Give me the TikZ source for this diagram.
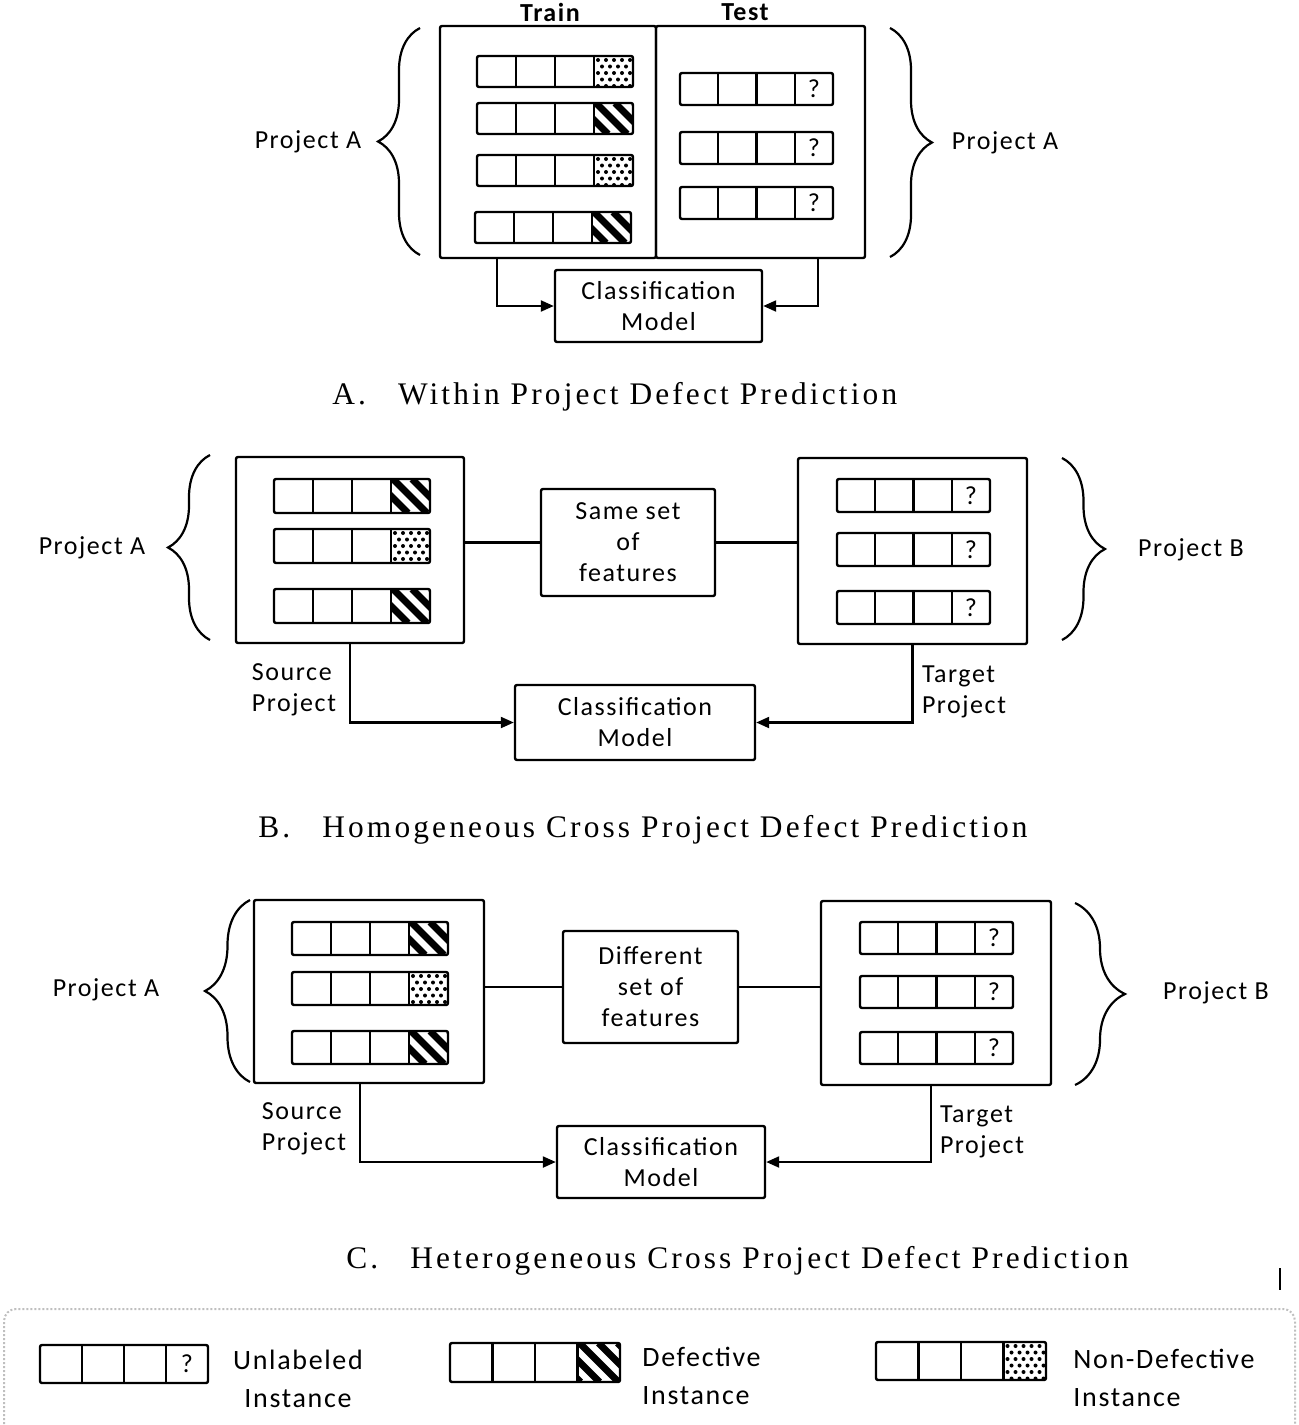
\documentclass[tikz,border=0pt]{standalone}
\usepackage{fontspec}
\setmainfont{Liberation Serif}
\newfontfamily\labelfont{Carlito}[LetterSpace=6]
\newfontfamily\titlefont{Liberation Serif}[LetterSpace=10]
\usetikzlibrary{positioning,decorations.pathreplacing,arrows.meta}

\tikzset{
  x=0.5pt, y=-0.5pt,
  box/.style={draw, line width=1.2pt, rounded corners=1pt, inner sep=0pt},
  lbl/.style={font=\labelfont\fontsize{13}{15.5}\selectfont, align=center, inner sep=0pt},
  lblb/.style={font=\labelfont\bfseries\fontsize{13}{15.5}\selectfont, inner sep=0pt},
  keylbl/.style={font=\labelfont\fontsize{14}{19}\selectfont, inner sep=0pt},
  ttl/.style={font=\titlefont\fontsize{15.7}{18}\selectfont, anchor=base west, inner sep=0pt},
  wire/.style={line width=1.1pt},
  arr/.style={wire, -{Triangle[length=6.5pt,width=5.5pt]}},
  brc/.style={decorate, decoration={brace, amplitude=#1}, line width=1.1pt},
  cellw/.store in=\cellw, cellh/.store in=\cellh, cellw=39, cellh=31,
  % one instance: four feature cells
  row/.pic={
    \draw[line width=1.2pt, rounded corners=1pt] (0,0) rectangle ({4*\cellw},\cellh);
    \foreach \i in {1,2,3}
      \draw[line width=1.1pt] ({\i*\cellw},0) -- ({\i*\cellw},\cellh);
  },
  unlab/.pic={
    \pic {row};
    \node[lbl] at ({3.5*\cellw},{0.5*\cellh}) {?};
  },
  defect/.pic={
    \begin{scope}
      \clip ({3*\cellw},0) rectangle ({4*\cellw},\cellh);
      \foreach \k in {-2,...,2}
        \draw[line width=3.4pt] ({3*\cellw+\k*19+2},0) -- ++(\cellh,\cellh);
    \end{scope}
    \pic {row};
  },
  nondef/.pic={
    \begin{scope}
      \clip ({3*\cellw},0) rectangle ({4*\cellw},\cellh);
      \foreach \i in {0,...,5}
        \foreach \j in {0,...,6}
          \fill ({3*\cellw+4+\i*8+mod(\j,2)*4},{4+\j*6.5}) circle (1pt);
    \end{scope}
    \pic {row};
  },
}

\begin{document}
\begin{tikzpicture}
\useasboundingbox (0,0) rectangle (1299,1425);

% ---------- A. within project
\node[box, minimum width=108pt, minimum height=116pt] (trainA) at (548,142) {};
\node[box, minimum width=104.5pt, minimum height=116pt] (testA) at (760.5,142) {};
\node[lblb] (trainlbl) at (550,12) {Train};
\node[lblb] (testlbl) at (745,12) {Test};

\pic at (477,56) {nondef};
\pic at (477,103) {defect};
\pic at (477,155) {nondef};
\pic at (475,212) {defect};
\foreach \y in {73,132,187}
  \pic[cellw=38.25, cellh=32] at (680,\y) {unlab};

\draw[brc=21pt] (420,255) -- (420,28);
\node[lbl] (projAl) at (308,142) {Project A};
\draw[brc=21pt] (890,28) -- (890,257);
\node[lbl] (projAr) at (1005,143) {Project A};

\node[box, minimum width=103.5pt, minimum height=36pt, lbl] (clsA) at (658.5,306) {Classification\\Model};
\draw[arr] ([xshift=29pt]trainA.south west) |- (clsA.west);
\draw[arr] ([xshift=-24pt]testA.south east) |- (clsA.east);

\node[ttl] (ttlA) at (332,404) {A.\hspace{16pt}Within Project Defect Prediction};

% ---------- B. homogeneous
\node[box, minimum width=114pt, minimum height=93pt] (srcB) at (350,550) {};
\node[box, minimum width=87pt, minimum height=53.5pt, lbl] (featB) at (628,542.5) {Same set\\of\\features};
\node[box, minimum width=114.5pt, minimum height=93pt] (tgtB) at (912.5,551) {};
\node[box, minimum width=120pt, minimum height=37.5pt, lbl] (clsB) at (635,722.5) {Classification\\Model};

\pic[cellh=34] at (274,479) {defect};
\pic[cellh=34] at (274,529) {nondef};
\pic[cellh=34] at (274,589) {defect};
\foreach \y in {479,533,591}
  \pic[cellw=38.25, cellh=33] at (837,\y) {unlab};

\draw[wire] (featB.west) -- (featB.west -| srcB.east);
\draw[wire] (featB.east) -- (featB.east -| tgtB.west);

\draw[brc=21pt] (210,640) -- (210,455);
\node[lbl] (projBl) at (92,548) {Project A};
\draw[brc=21.5pt] (1062,458) -- (1062,640);
\node[lbl] (projBr) at (1191,550) {Project B};

\node[lbl, align=left] (srcBlbl) at (294,690) {Source\\Project};
\node[lbl, align=left] (tgtBlbl) at (964,692) {Target\\Project};
\draw[arr] (srcB.south) |- (clsB.west);
\draw[arr] (tgtB.south) |- (clsB.east);

\node[ttl] (ttlB) at (258,837) {B.\hspace{16pt}Homogeneous Cross Project Defect Prediction};

% ---------- C. heterogeneous
\node[box, minimum width=115pt, minimum height=91.5pt] (srcC) at (369,991.5) {};
\node[box, minimum width=87.5pt, minimum height=56pt, lbl] (featC) at (650.5,987) {Different\\set of\\features};
\node[box, minimum width=115pt, minimum height=92pt] (tgtC) at (936,993) {};
\node[box, minimum width=104pt, minimum height=36pt, lbl] (clsC) at (661,1162) {Classification\\Model};

\pic[cellh=33] at (292,922) {defect};
\pic[cellh=33] at (292,972) {nondef};
\pic[cellh=33] at (292,1031) {defect};
\foreach \y in {922,976,1032}
  \pic[cellw=38.25, cellh=32] at (860,\y) {unlab};

\draw[wire] (featC.west) -- (featC.west -| srcC.east);
\draw[wire] (featC.east) -- (featC.east -| tgtC.west);

\draw[brc=22.5pt] (250,1082) -- (250,900);
\node[lbl] (projCl) at (106,990) {Project A};
\draw[brc=25pt] (1075,903) -- (1075,1085);
\node[lbl] (projCr) at (1216,993) {Project B};

\node[lbl, align=left] (srcClbl) at (304,1129) {Source\\Project};
\node[lbl, align=left] (tgtClbl) at (982,1132) {Target\\Project};
\draw[arr] ([xshift=-4.5pt]srcC.south) |- (clsC.west);
\draw[arr] ([xshift=-2.5pt]tgtC.south) |- (clsC.east);

\node[ttl] (ttlC) at (346,1268) {C.\hspace{16pt}Heterogeneous Cross Project Defect Prediction};
\draw[line width=1pt] (1280,1268) -- (1280,1290);

% ---------- key
\draw[gray!50, densely dotted, line width=1pt, rounded corners=6pt] (4,1440) -- (4,1309) -- (1295,1309) -- (1295,1440);
\pic[cellw=42, cellh=38] at (40,1345) {unlab};
\node[keylbl, align=center] (keyunlab) at (298,1379) {Unlabeled\\Instance};
\pic[cellw=42.5, cellh=39] at (450,1343) {defect};
\node[keylbl, align=left, anchor=west] (keydefect) at (642,1376) {Defective\\Instance};
\pic[cellw=42.5, cellh=38] at (876,1342) {nondef};
\node[keylbl, align=left, anchor=west] (keynondef) at (1073,1378) {Non-Defective\\Instance};

\end{tikzpicture}
\end{document}
